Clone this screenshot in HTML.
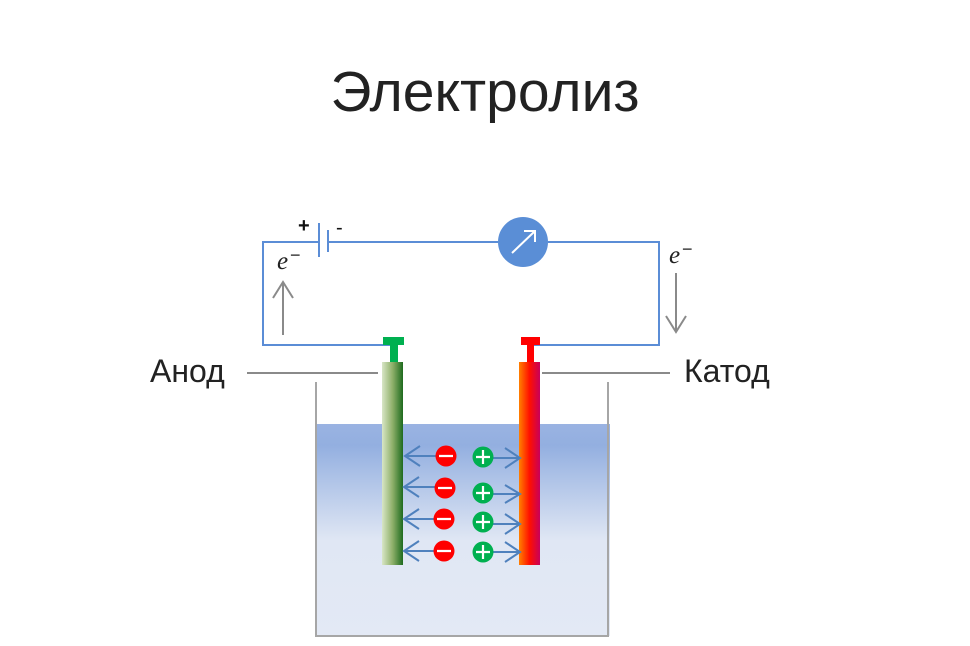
<!DOCTYPE html>
<html><head><meta charset="utf-8"><style>
body{margin:0;background:#fff;width:970px;height:646px;overflow:hidden}
svg{display:block}
text{font-family:"Liberation Sans",sans-serif}
</style></head><body>
<svg width="970" height="646" viewBox="0 0 970 646" xmlns="http://www.w3.org/2000/svg">
<defs>
<linearGradient id="liq" x1="0" y1="0" x2="0" y2="1">
<stop offset="0" stop-color="#9ab3e2"/><stop offset="0.1" stop-color="#93afe0"/>
<stop offset="0.55" stop-color="#e0e7f4"/><stop offset="1" stop-color="#e3e9f5"/></linearGradient>
<linearGradient id="an" x1="0" y1="0" x2="1" y2="0">
<stop offset="0" stop-color="#d8e6c6"/><stop offset="0.5" stop-color="#8fb06a"/><stop offset="1" stop-color="#1e6b1e"/></linearGradient>
<linearGradient id="ca" x1="0" y1="0" x2="1" y2="0">
<stop offset="0" stop-color="#ff8000"/><stop offset="0.5" stop-color="#ff1000"/><stop offset="1" stop-color="#c8005a"/></linearGradient>
</defs>
<text x="485" y="111" font-size="57" text-anchor="middle" fill="#222">Электролиз</text>
<rect x="316" y="424" width="294" height="212" fill="url(#liq)"/>
<path d="M316 382 V636 H608 V382" fill="none" stroke="#a6a6a6" stroke-width="2"/>
<g stroke="#5b8dd6" stroke-width="2" fill="none">
<path d="M318 242 H263 V345 H392"/>
<path d="M328 242 H498"/>
<path d="M548 242 H659 V345 H530"/>
<path d="M319 223 V257"/><path d="M328 230 V252"/>
</g>
<text x="298" y="232" font-size="20" font-weight="bold" fill="#111">+</text>
<text x="336" y="234" font-size="20" fill="#111">-</text>
<circle cx="523" cy="242" r="25" fill="#5a8ed6"/>
<g stroke="#fff" stroke-width="2" fill="none"><path d="M512 253 L535 231 M524 231 H535 V242"/></g>
<text x="277" y="269" font-size="25" font-style="italic" fill="#222" style="font-family:'Liberation Serif',serif">e</text>
<text x="290" y="261" font-size="18" fill="#222">−</text>
<text x="669" y="263" font-size="25" font-style="italic" fill="#222" style="font-family:'Liberation Serif',serif">e</text>
<text x="682" y="255" font-size="18" fill="#222">−</text>
<g stroke="#8a8a8a" stroke-width="2" fill="none">
<path d="M283 335 V282 M273 298 L283 282 L293 298"/>
<path d="M676 273 V332 M666 316 L676 332 L686 316"/>
<path d="M247 373 H378 M542 373 H670"/>
</g>
<text x="150" y="382" font-size="32" fill="#222">Анод</text>
<text x="684" y="382" font-size="32" fill="#222">Катод</text>
<rect x="383" y="337" width="21" height="8" fill="#00b050"/>
<rect x="390" y="345" width="8" height="17" fill="#00b050"/>
<rect x="382" y="362" width="21" height="203" fill="url(#an)"/>
<rect x="521" y="337" width="19" height="8" fill="#ff0000"/>
<rect x="527" y="345" width="7" height="17" fill="#ff0000"/>
<rect x="519" y="362" width="21" height="203" fill="url(#ca)"/>
<g stroke="#4f81bd" stroke-width="2" fill="none">
<path d="M436 456 H405 M420 446 L405 456 L420 466"/>
<path d="M435 487 H404 M419 477 L404 487 L419 497"/>
<path d="M434 519 H404 M419 509 L404 519 L419 529"/>
<path d="M434 551 H404 M419 541 L404 551 L419 561"/>
<path d="M493 458 H520 M505 448 L520 458 L505 468"/>
<path d="M493 494 H520 M505 485 L520 494 L505 503"/>
<path d="M493 524 H520 M505 514 L520 524 L505 534"/>
<path d="M493 552 H520 M505 542 L520 552 L505 562"/>
</g>
<g fill="#ff0000"><circle cx="446" cy="456" r="10.5"/><circle cx="445" cy="488" r="10.5"/><circle cx="444" cy="519" r="10.5"/><circle cx="444" cy="551" r="10.5"/></g>
<g fill="#00b050"><circle cx="483" cy="457" r="10.5"/><circle cx="483" cy="493" r="10.5"/><circle cx="483" cy="522" r="10.5"/><circle cx="483" cy="552" r="10.5"/></g>
<g stroke="#fff" stroke-width="2.2">
<path d="M439 456 H453 M438 488 H452 M437 519 H451 M437 551 H451"/>
<path d="M476 457 H490 M483 450 V464 M476 493 H490 M483 486 V500 M476 522 H490 M483 515 V529 M476 552 H490 M483 545 V559"/>
</g>
</svg>
</body></html>
